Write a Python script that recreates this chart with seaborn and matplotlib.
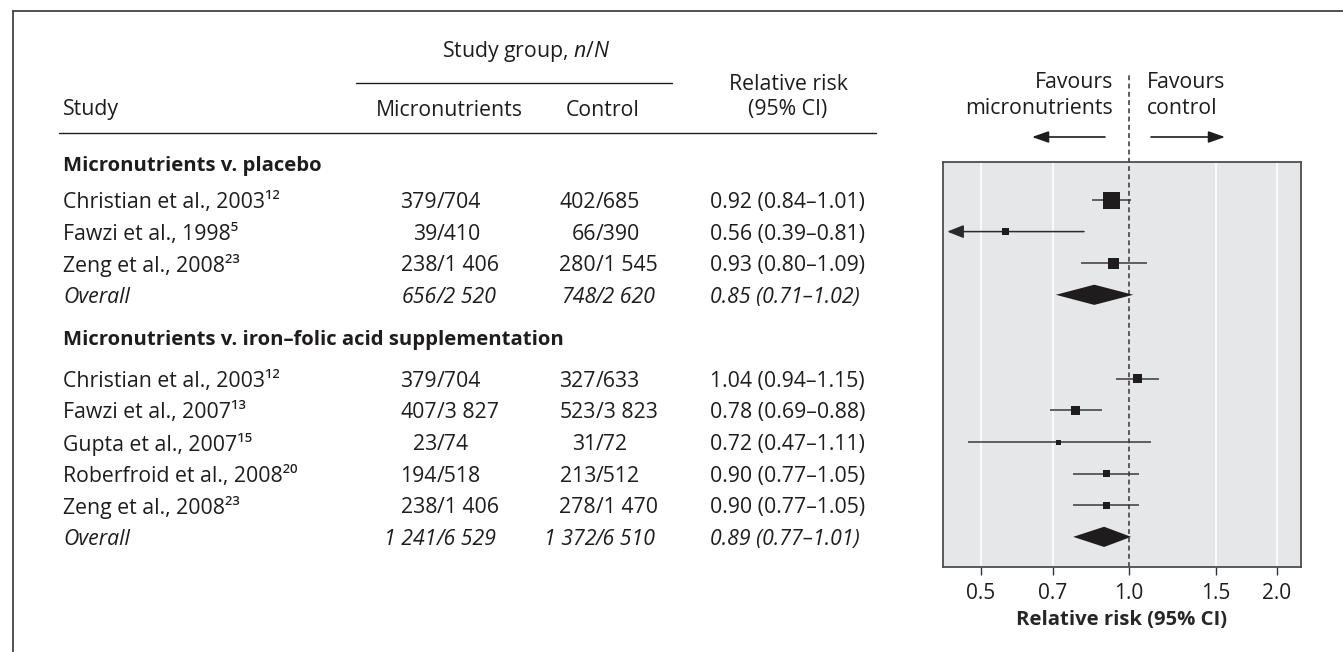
import numpy as np
import pandas as pd
import matplotlib.pyplot as plt
import matplotlib.transforms as mtransforms
from matplotlib.ticker import NullLocator
import seaborn as sns

# ---- values ----
group_titles = ["Micronutrients v. placebo",
                "Micronutrients v. iron\u2013folic acid supplementation"]

g1_study = ["Christian et al., 2003", "Fawzi et al., 1998", "Zeng et al., 2008"]
g1_ref = ["12", "5", "23"]
g1_micro = ["379/704", "39/410", "238/1 406"]
g1_control = ["402/685", "66/390", "280/1 545"]
g1_rr = [0.92, 0.56, 0.93]
g1_lo = [0.84, 0.39, 0.80]
g1_hi = [1.01, 0.81, 1.09]

g2_study = ["Christian et al., 2003", "Fawzi et al., 2007", "Gupta et al., 2007",
            "Roberfroid et al., 2008", "Zeng et al., 2008"]
g2_ref = ["12", "13", "15", "20", "23"]
g2_micro = ["379/704", "407/3 827", "23/74", "194/518", "238/1 406"]
g2_control = ["327/633", "523/3 823", "31/72", "213/512", "278/1 470"]
g2_rr = [1.04, 0.78, 0.72, 0.90, 0.90]
g2_lo = [0.94, 0.69, 0.47, 0.77, 0.77]
g2_hi = [1.15, 0.88, 1.11, 1.05, 1.05]

overall_micro = ["656/2 520", "1 241/6 529"]
overall_control = ["748/2 620", "1 372/6 510"]
overall_rr = [0.85, 0.89]
overall_lo = [0.71, 0.77]
overall_hi = [1.02, 1.01]

x_ticks = [0.5, 0.7, 1.0, 1.5, 2.0]

# ---- styling / layout ----
g1_box_px = [17, 7, 11]
g2_box_px = [9, 9, 5, 7, 7]
INK = "#1f1c1d"
PANEL = "#e6e7e8"
W, H = 1343, 652
ROW_PX = 31.6          # pixel height of one row
ROW0_PX = 200          # pixel y of first study row
G2_START = 5.66        # row index where group 2 starts
XLIM = (0.4185, 2.238)

sns.set_style("white")
plt.rcParams["font.family"] = ["Open Sans", "DejaVu Sans"]
plt.rcParams["mathtext.fontset"] = "custom"
plt.rcParams["mathtext.rm"] = "Open Sans"
plt.rcParams["mathtext.it"] = "Open Sans:italic"
plt.rcParams["mathtext.bf"] = "Open Sans:bold"
plt.rcParams["text.color"] = INK
FS = 15.3       # regular table text
FS_B = 14.6     # bold text

SUP = str.maketrans("0123456789", "\u2070\u00b9\u00b2\u00b3\u2074\u2075\u2076\u2077\u2078\u2079")

rows = pd.DataFrame({
    "study": g1_study + g2_study,
    "ref": g1_ref + g2_ref,
    "micro": g1_micro + g2_micro,
    "control": g1_control + g2_control,
    "rr": g1_rr + g2_rr,
    "lo": g1_lo + g2_lo,
    "hi": g1_hi + g2_hi,
    "box": g1_box_px + g2_box_px,
})
rows["row"] = list(np.arange(len(g1_study))) + list(G2_START + np.arange(len(g2_study)))
overall_row = [len(g1_study), G2_START + len(g2_study)]
header_row = [-1.17, G2_START - 1.3]


def fx(px):
    return px / W


def fy(py):
    return 1 - py / H


def prow(py):
    return (py - ROW0_PX) / ROW_PX


fig = plt.figure(figsize=(W / 100, H / 100), dpi=100)
ax = fig.add_axes([fx(943), fy(567), fx(1301) - fx(943), (567 - 162) / H])
ax.set_xscale("log")
ax.set_xlim(*XLIM)
y_top, y_bot = prow(162), prow(567)
ax.set_ylim(y_bot, y_top)
ax.set_facecolor(PANEL)

# white gridlines, dashed reference line
ax.vlines([t for t in x_ticks if t != 1.0], y_bot, y_top, color="white", lw=1.2, zorder=0.5)
ax.plot([1, 1], [y_bot, prow(75)], color="#333333", lw=1.1, ls=(0, (3.2, 2.2)),
        clip_on=False, zorder=1)

# confidence intervals
inside = rows[rows["lo"] >= XLIM[0]]
ax.hlines(inside["row"], inside["lo"], inside["hi"], color="#3a3a3a", lw=1.1, zorder=2)
for _, r in rows[rows["lo"] < XLIM[0]].iterrows():
    ax.annotate("", xy=(XLIM[0] * 1.02, r["row"]), xytext=(r["hi"], r["row"]),
                arrowprops=dict(arrowstyle="-|>,head_length=1.0,head_width=0.4",
                                color="#2a2a2a", lw=1.1, shrinkA=0, shrinkB=0), zorder=2)

# study boxes
sns.scatterplot(data=rows, x="rr", y="row", marker="s", color=INK, edgecolor="none",
                s=(rows["box"] * 0.72) ** 2, legend=False, zorder=3, ax=ax)

# pooled diamonds
for yr, est, lo, hi in zip(overall_row, overall_rr, overall_lo, overall_hi):
    ax.fill([lo, est, hi, est], [yr, yr - 0.32, yr, yr + 0.32], color=INK, lw=0, zorder=3)

ax.set_xticks(x_ticks)
ax.set_xticklabels([f"{t:.1f}" for t in x_ticks])
ax.xaxis.set_minor_locator(NullLocator())
ax.set_yticks([])
ax.tick_params(axis="x", length=5.5, width=1, color="#333333", labelsize=15,
               labelcolor=INK, pad=6, bottom=True)
ax.set_xlabel("Relative risk (95% CI)", fontsize=FS_B, fontweight="bold", labelpad=4)
ax.set_ylabel("")
for sp in ax.spines.values():
    sp.set_color("#4d4d4d")
    sp.set_linewidth(1.3)

# favours labels and arrows (figure pixel positions)
fig.text(fx(1113), fy(83), "Favours", ha="right", va="center", fontsize=FS)
fig.text(fx(1113), fy(108), "micronutrients", ha="right", va="center", fontsize=FS)
fig.text(fx(1147), fy(83), "Favours", ha="left", va="center", fontsize=FS)
fig.text(fx(1147), fy(108), "control", ha="left", va="center", fontsize=FS)
arrow_kw = dict(arrowstyle="-|>,head_length=1.0,head_width=0.35", color=INK, lw=1.2,
                shrinkA=0, shrinkB=0)
fig.add_artist(plt.Annotation("", xy=(fx(1032), fy(137)), xytext=(fx(1105), fy(137)),
                              xycoords="figure fraction", textcoords="figure fraction",
                              arrowprops=arrow_kw))
fig.add_artist(plt.Annotation("", xy=(fx(1225), fy(137)), xytext=(fx(1151), fy(137)),
                              xycoords="figure fraction", textcoords="figure fraction",
                              arrowprops=arrow_kw))

# ---- table on the left ----
trans = mtransforms.blended_transform_factory(fig.transFigure, ax.transData)
X_STUDY, X_MICRO_SLASH, X_CTRL_SLASH, X_RR = 63, 437, 596, 710


def slash_text(xpx, y, s, **kw):
    left, right = s.split("/")
    ax.text(fx(xpx), y, left, ha="right", va="center_baseline", transform=trans,
            fontsize=FS, clip_on=False, **kw)
    ax.text(fx(xpx), y, "/" + right, ha="left", va="center_baseline", transform=trans,
            fontsize=FS, clip_on=False, **kw)


for _, r in rows.iterrows():
    ax.text(fx(X_STUDY), r["row"], r["study"] + r["ref"].translate(SUP), ha="left",
            va="center_baseline", transform=trans, fontsize=FS, clip_on=False)
    slash_text(X_MICRO_SLASH, r["row"], r["micro"])
    slash_text(X_CTRL_SLASH, r["row"], r["control"])
    ax.text(fx(X_RR), r["row"], f"{r['rr']:.2f} ({r['lo']:.2f}\u2013{r['hi']:.2f})",
            ha="left", va="center_baseline", transform=trans, fontsize=FS, clip_on=False)

for i in range(2):
    yr = overall_row[i]
    ax.text(fx(X_STUDY), yr, "Overall", ha="left", va="center_baseline", transform=trans,
            fontsize=FS, style="italic", clip_on=False)
    slash_text(X_MICRO_SLASH, yr, overall_micro[i], style="italic")
    slash_text(X_CTRL_SLASH, yr, overall_control[i], style="italic")
    ax.text(fx(X_RR), yr,
            f"{overall_rr[i]:.2f} ({overall_lo[i]:.2f}\u2013{overall_hi[i]:.2f})",
            ha="left", va="center_baseline", transform=trans, fontsize=FS, style="italic",
            clip_on=False)
    ax.text(fx(X_STUDY), header_row[i], group_titles[i], ha="left", va="center_baseline",
            transform=trans, fontsize=FS_B, fontweight="bold", clip_on=False)

# column headers
fig.text(fx(526), fy(52), "Study group, $\\mathit{n/N}$", ha="center", va="center", fontsize=FS)
fig.text(fx(788), fy(84), "Relative risk", ha="center", va="center", fontsize=FS)
fig.text(fx(788), fy(110), "(95% CI)", ha="center", va="center", fontsize=FS)
fig.text(fx(X_STUDY), fy(110), "Study", ha="left", va="center", fontsize=FS)
fig.text(fx(449), fy(110), "Micronutrients", ha="center", va="center", fontsize=FS)
fig.text(fx(603), fy(110), "Control", ha="center", va="center", fontsize=FS)
fig.add_artist(plt.Line2D([fx(356), fx(672)], [fy(83), fy(83)], color=INK, lw=1.0))
fig.add_artist(plt.Line2D([fx(59), fx(876)], [fy(133), fy(133)], color=INK, lw=1.0))

# outer frame (top and left edges)
fig.add_artist(plt.Line2D([fx(12.5), 1], [fy(10.5), fy(10.5)], color="#333333", lw=1.2))
fig.add_artist(plt.Line2D([fx(12.5), fx(12.5)], [fy(10.5), 0], color="#333333", lw=1.2))

fig.savefig("out.png", dpi=100)
